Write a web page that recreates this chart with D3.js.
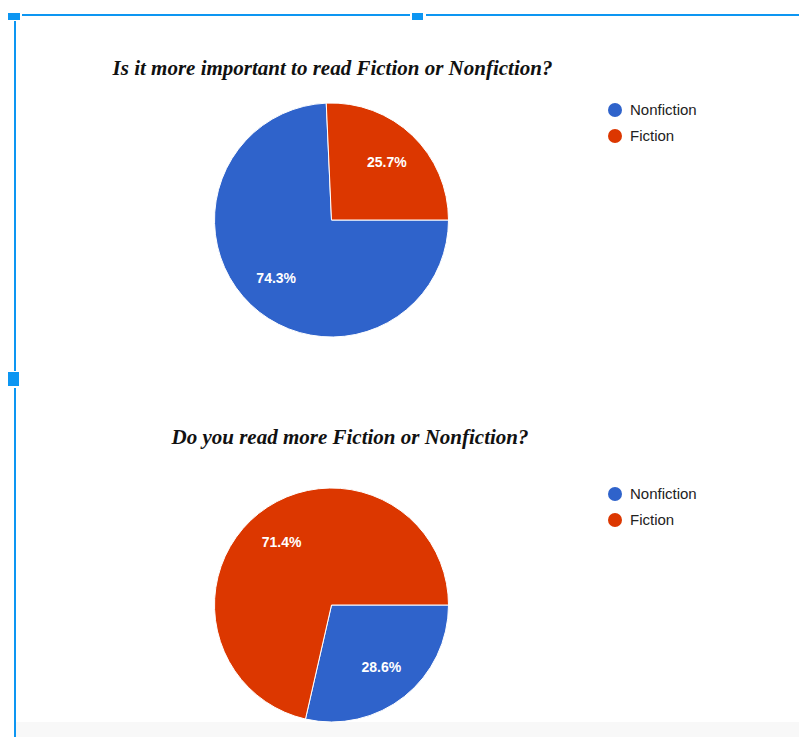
<!DOCTYPE html>
<html lang="en">
<head>
  <meta charset="UTF-8">
  <title>Fiction or Nonfiction</title>
  <style>
    * { box-sizing: border-box; margin: 0; }
    body { background: #fff; overflow: hidden; }
    svg { display: block; }
    .title {
      font-family: "Liberation Serif", "Times New Roman", serif;
      font-weight: bold;
      font-style: italic;
      font-size: 21px;
      fill: #111;
    }
    .legend-item text {
      font-family: "Liberation Sans", Arial, sans-serif;
      font-size: 15px;
      fill: #222;
    }
    .slice-label {
      font-family: "Liberation Sans", Arial, sans-serif;
      font-size: 14px;
      font-weight: bold;
      fill: #fff;
    }
  </style>
</head>
<body>
  <svg></svg>
  <script src="https://d3js.org/d3.v7.min.js"></script>
  <script>
    // answers, in the order the slices are drawn
    const categories = ['Nonfiction', 'Fiction'];
    const titles = [
      'Is it more important to read Fiction or Nonfiction?',
      'Do you read more Fiction or Nonfiction?'
    ];
    // number of responses per chart (35 each)
    const importantCounts = [26, 9];
    const readCounts = [10, 25];

    const width = 799;
    const height = 737;
    const radius = 117;

    const svg = d3.select('svg')
      .attr('width', width)
      .attr('height', height);

    const colorScale = d3.scaleOrdinal()
      .domain(categories)
      .range(['#2f63cb', '#dc3700']);

    // google style: first slice starts at 3 o'clock
    const pie = d3.pie()
      .sort(null)
      .startAngle(Math.PI / 2)
      .endAngle(Math.PI / 2 + 2 * Math.PI)
      .value(d => d.value);

    const arc = d3.arc().innerRadius(0).outerRadius(radius);
    const labelArc = d3.arc().innerRadius(80).outerRadius(80);
    const pct = d3.format('.1%');

    const charts = [
      { title: titles[0], counts: importantCounts, cx: 331.5, cy: 220, titleX: 332.5, titleY: 75, legendY: 110 },
      { title: titles[1], counts: readCounts, cx: 331.5, cy: 605, titleX: 350, titleY: 444, legendY: 494 }
    ];

    charts.forEach(c => {
      const data = categories.map((name, i) => ({ name: name, value: c.counts[i] }));
      const total = d3.sum(data, d => d.value);

      svg.append('text')
        .attr('class', 'title')
        .attr('x', c.titleX)
        .attr('y', c.titleY)
        .attr('text-anchor', 'middle')
        .text(c.title);

      const g = svg.append('g')
        .attr('transform', 'translate(' + c.cx + ',' + c.cy + ')');

      const arcs = pie(data);

      g.selectAll('path')
        .data(arcs)
        .enter()
        .append('path')
        .attr('d', arc)
        .attr('fill', d => colorScale(d.data.name))
        .attr('stroke', '#fff')
        .attr('stroke-width', 1);

      g.selectAll('.slice-label')
        .data(arcs)
        .enter()
        .append('text')
        .attr('class', 'slice-label')
        .attr('transform', d => 'translate(' + labelArc.centroid(d) + ')')
        .attr('text-anchor', 'middle')
        .attr('dy', '0.35em')
        .text(d => pct(d.data.value / total));

      const legend = svg.append('g')
        .attr('transform', 'translate(615,' + c.legendY + ')');

      const items = legend.selectAll('.legend-item')
        .data(categories)
        .enter()
        .append('g')
        .attr('class', 'legend-item')
        .attr('transform', (d, i) => 'translate(0,' + i * 26 + ')');

      items.append('circle')
        .attr('r', 7)
        .attr('fill', d => colorScale(d));

      items.append('text')
        .attr('x', 15)
        .attr('dy', '0.35em')
        .text(d => d);
    });

    // grey strip along the bottom edge
    svg.append('rect')
      .attr('x', 16)
      .attr('y', 722)
      .attr('width', width - 16)
      .attr('height', height - 722)
      .attr('fill', '#f8f8f8');

    // selection frame with its handles
    const frame = svg.append('g').attr('fill', '#0d96f2');
    frame.append('rect').attr('x', 22).attr('y', 14).attr('width', 388).attr('height', 2);
    frame.append('rect').attr('x', 426).attr('y', 14).attr('width', width - 426).attr('height', 2);
    frame.append('rect').attr('x', 14).attr('y', 21).attr('width', 2).attr('height', 350);
    frame.append('rect').attr('x', 14).attr('y', 388).attr('width', 2).attr('height', height - 388);
    frame.append('rect').attr('x', 8).attr('y', 13).attr('width', 12).attr('height', 7);
    frame.append('rect').attr('x', 412).attr('y', 13).attr('width', 11).attr('height', 7);
    frame.append('rect').attr('x', 8).attr('y', 372).attr('width', 11).attr('height', 14);
  </script>
</body>
</html>
